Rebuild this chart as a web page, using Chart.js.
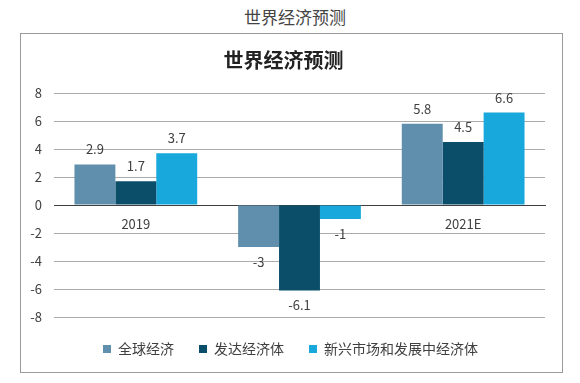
<!DOCTYPE html>
<html>
<head>
<meta charset="utf-8">
<script src="https://cdn.jsdelivr.net/npm/chart.js@4.4.1/dist/chart.umd.min.js"></script>
<style>
  body { margin: 0; background: #fff; }
  #wrap { position: relative; width: 580px; height: 383px; }
  #outerTitle { position: absolute; left: 0; top: 4px; width: 590px; text-align: center;
    font: 17px "Noto Sans CJK SC", serif; color: #444; }
  #box { position: absolute; left: 20px; top: 33px; width: 541px; height: 338px; border: 1px solid #9a9a9a; }
  canvas { position: absolute; left: 0; top: 0; }
</style>
</head>
<body>
<div id="wrap">
  <div id="outerTitle">世界经济预测</div>
  <div id="box"></div>
  <canvas id="canvas" width="580" height="383"></canvas>
</div>
<script>
var years = ['2019', '2020E', '2021E'];
var seriesNames = ['全球经济', '发达经济体', '新兴市场和发展中经济体'];
var world = [2.9, -3, 5.8];
var advanced = [1.7, -6.1, 4.5];
var emerging = [3.7, -1, 6.6];
var yTicks = [-8, -6, -4, -2, 0, 2, 4, 6, 8];

var colors = ['#5f8fad', '#0b4e6a', '#18a8dc'];
var textColor = '#404040';
var font = '"Noto Sans CJK SC", "Open Sans", sans-serif';

var valueLabels = {
  id: 'valueLabels',
  afterDatasetsDraw: function(chart) {
    var ctx = chart.ctx;
    ctx.save();
    ctx.font = '13px ' + font;
    ctx.fillStyle = textColor;
    ctx.textAlign = 'center';
    ctx.textBaseline = 'middle';
    chart.data.datasets.forEach(function(ds, i) {
      chart.getDatasetMeta(i).data.forEach(function(bar, j) {
        var v = ds.data[j];
        var y = v >= 0 ? bar.y - 15 : bar.y + 15;
        ctx.fillText(String(v), bar.x, y);
      });
    });
    ctx.restore();
  }
};

// centre the legend under the plot area rather than the whole canvas
var legendShift = {
  id: 'legendShift',
  afterLayout: function(chart) {
    chart.legend.left += 7;
    chart.legend.right += 7;
  }
};

window.onload = function() {
  var ctx = document.getElementById('canvas').getContext('2d');
  new Chart(ctx, {
    type: 'bar',
    data: {
      labels: years,
      datasets: [
        { label: seriesNames[0], data: world, backgroundColor: colors[0] },
        { label: seriesNames[1], data: advanced, backgroundColor: colors[1] },
        { label: seriesNames[2], data: emerging, backgroundColor: colors[2] }
      ]
    },
    options: {
      responsive: false,
      animation: false,
      layout: { padding: { left: 22, right: 35, top: 48, bottom: 17 } },
      datasets: { bar: { categoryPercentage: 0.75, barPercentage: 1.0 } },
      plugins: {
        title: {
          display: true,
          text: '世界经济预测',
          color: '#222',
          font: { family: font, size: 20, weight: 'bold' },
          padding: { top: 0, bottom: 21 }
        },
        legend: {
          position: 'bottom',
          labels: {
            color: textColor,
            font: { family: font, size: 14 },
            boxWidth: 8,
            boxHeight: 8,
            padding: 25
          }
        },
        tooltip: { enabled: false }
      },
      scales: {
        x: {
          position: { y: 0 },
          z: 1,
          grid: { display: false, drawTicks: false },
          border: { display: true, color: '#404040', width: 1 },
          ticks: { color: textColor, font: { family: font, size: 13 }, padding: 11 }
        },
        y: {
          min: -8,
          max: 8,
          afterBuildTicks: function(scale) {
            scale.ticks = yTicks.map(function(v) { return { value: v }; });
          },
          afterFit: function(scale) { scale.width = 32; },
          grid: { color: '#ababab', drawTicks: false },
          border: { display: false },
          ticks: { color: textColor, font: { family: font, size: 13 }, padding: 12 }
        }
      }
    },
    plugins: [valueLabels, legendShift]
  });
};
</script>
</body>
</html>
